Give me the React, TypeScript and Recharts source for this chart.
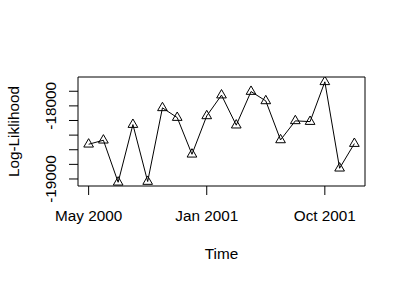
import { LineChart, Line, XAxis, YAxis, ReferenceArea } from 'recharts';

// log-likelihood per period
const logLik = [
    -18525, -18470, -19045, -18256, -19035, -18027, -18160, -18662, -18137, -17853,
    -18264, -17804, -17932, -18466, -18205, -18215, -17671, -18853, -18516,
];
const xTicks = [0, 8, 16];
const xTickLabels = ['May 2000', 'Jan 2001', 'Oct 2001'];
const yTicks = [-19000, -18800, -18600, -18400, -18200, -18000, -17800];
const yLabelled = [-19000, -18000];

const X_DOMAIN: [number, number] = [-0.72, 18.72];
const Y_DOMAIN: [number, number] = [-19096, -17605];

const FONT = '"Liberation Sans", Arial, sans-serif';
const FS = 15.3;

const data = logLik.map((v, i) => ({ t: i, v }));

// hollow triangle, same proportions as R's pch = 2
const Triangle = (props: any) => {
    const { cx, cy, index } = props;
    if (cx == null || cy == null) return null;
    const r = 5.6;
    const hw = r * 0.866;
    const pts = `${cx},${cy - r} ${cx + hw},${cy + r / 2} ${cx - hw},${cy + r / 2}`;
    return <polygon key={`tri-${index}`} points={pts} fill="none" stroke="#000" strokeWidth={1} />;
};

const XTick = ({ x, payload }: any) => {
    const i = xTicks.indexOf(payload.value);
    return (
        <text x={x} y={220.5} textAnchor="middle" fontFamily={FONT} fontSize={FS} fill="#000">
            {xTickLabels[i]}
        </text>
    );
};

const YTick = ({ y, payload }: any) => {
    if (!yLabelled.includes(payload.value)) return null;
    return (
        <text
            x={56.5}
            y={y}
            transform={`rotate(-90, 56.5, ${y})`}
            textAnchor="middle"
            fontFamily={FONT}
            fontSize={FS}
            fill="#000"
        >
            {payload.value}
        </text>
    );
};

export default function App() {
    return (
        <div style={{ position: 'absolute', left: 0, top: 0, width: 406, height: 284, background: '#fff' }}>
            <LineChart width={406} height={284} data={data} margin={{ top: 77, right: 41, bottom: 0, left: 0 }}>
                <XAxis
                    dataKey="t"
                    type="number"
                    domain={X_DOMAIN}
                    allowDataOverflow
                    ticks={xTicks}
                    interval={0}
                    height={98}
                    axisLine={false}
                    tickLine={{ stroke: '#000' }}
                    tickSize={9}
                    tick={<XTick />}
                />
                <YAxis
                    type="number"
                    domain={Y_DOMAIN}
                    allowDataOverflow
                    ticks={yTicks}
                    interval={0}
                    width={78}
                    axisLine={false}
                    tickLine={{ stroke: '#000' }}
                    tickSize={9}
                    tick={<YTick />}
                />
                <ReferenceArea
                    x1={X_DOMAIN[0]}
                    x2={X_DOMAIN[1]}
                    y1={Y_DOMAIN[0]}
                    y2={Y_DOMAIN[1]}
                    fill="none"
                    stroke="#000"
                    strokeWidth={1}
                    ifOverflow="visible"
                />
                <Line
                    dataKey="v"
                    type="linear"
                    stroke="#000"
                    strokeWidth={1}
                    dot={<Triangle />}
                    activeDot={false}
                    isAnimationActive={false}
                />
                <text x={221.5} y={258.5} textAnchor="middle" fontFamily={FONT} fontSize={FS} fill="#000">
                    Time
                </text>
                <text
                    x={18.5}
                    y={131.5}
                    transform="rotate(-90, 18.5, 131.5)"
                    textAnchor="middle"
                    fontFamily={FONT}
                    fontSize={FS}
                    fill="#000"
                >
                    Log-Liklihood
                </text>
            </LineChart>
        </div>
    );
}
